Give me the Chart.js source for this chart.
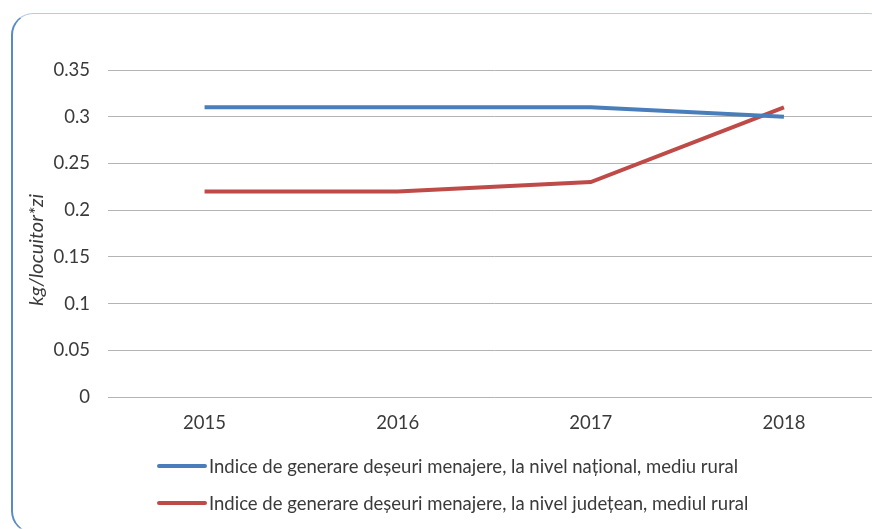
<!DOCTYPE html>
<html>
<head>
<meta charset="utf-8">
<script src="https://cdn.jsdelivr.net/npm/chart.js@4"></script>
<style>
  html, body { margin: 0; padding: 0; background: #fff; }
  #wrap { position: relative; width: 872px; height: 529px; overflow: hidden; }
  #frame {
    position: absolute; left: 11px; top: 13px; width: 880px; height: 520px;
    border: 1px solid #b3cbe8; border-left: 2px solid #5a8ac6;
    border-radius: 22px; box-sizing: border-box;
  }
  #box { position: absolute; left: 0; top: 0; width: 890px; height: 529px; }
  #legend {
    position: absolute; left: 157px; top: 454px;
    font-family: Lato, "Open Sans", sans-serif; font-size: 18.5px; color: #3a3a3a;
  }
  #legend .item { display: flex; align-items: center; height: 24px; margin-bottom: 13px; white-space: nowrap; }
  #legend .swatch { width: 50px; height: 4px; border-radius: 2px; margin-right: 2px; }
</style>
</head>
<body>
<div id="wrap">
  <div id="frame"></div>
  <div id="box"><canvas id="chart" width="890" height="529"></canvas></div>
  <div id="legend"></div>
</div>
<script>
// ani
const years = ["2015", "2016", "2017", "2018"];
const nationalRural = [0.31, 0.31, 0.31, 0.30];
const countyRural = [0.22, 0.22, 0.23, 0.31];
const yTicks = [0, 0.05, 0.1, 0.15, 0.2, 0.25, 0.3, 0.35];

const labelNational = "Indice de generare deșeuri menajere, la nivel național, mediu rural";
const labelCounty = "Indice de generare deșeuri menajere, la nivel județean, mediul rural";

const textColor = "#3a3a3a";
const fontFamily = "Lato, 'Open Sans', sans-serif";
const fontSize = 18.5;

const chart = new Chart(document.getElementById("chart"), {
  type: "line",
  data: {
    labels: years,
    datasets: [
      {
        label: labelNational,
        data: nationalRural,
        borderColor: "#4a7ebb",
        backgroundColor: "#4a7ebb",
        borderWidth: 4,
        pointRadius: 0,
        tension: 0
      },
      {
        label: labelCounty,
        data: countyRural,
        borderColor: "#be4b48",
        backgroundColor: "#be4b48",
        borderWidth: 4,
        pointRadius: 0,
        tension: 0
      }
    ]
  },
  options: {
    responsive: false,
    animation: false,
    layout: { padding: { top: 70, right: 9.5, bottom: 92, left: 0 } },
    plugins: {
      tooltip: { enabled: false },
      legend: { display: false }
    },
    scales: {
      x: {
        offset: true,
        grid: { display: false },
        border: { display: false },
        ticks: { color: textColor, font: { size: fontSize, family: fontFamily }, padding: 7 },
        afterFit: s => { s.height = 40; }
      },
      y: {
        min: 0,
        max: 0.35,
        afterBuildTicks: s => { s.ticks = yTicks.map(v => ({ value: v })); },
        grid: { color: "#b4b4b4", drawTicks: false },
        border: { display: false },
        ticks: {
          color: textColor,
          font: { size: fontSize, family: fontFamily },
          padding: 18,
          callback: v => String(+v.toFixed(2))
        },
        title: {
          display: true,
          // spatiile de la final coboara eticheta putin sub mijlocul axei
          text: "kg/locuitor*zi" + "\u00a0".repeat(7),
          color: textColor,
          font: { size: 20, family: fontFamily, style: "italic" },
          padding: { top: 25, bottom: 0 }
        },
        afterFit: s => { s.width = 108; }
      }
    }
  }
});

// legenda sub grafic, cate un rand pe serie
const legend = document.getElementById("legend");
chart.data.datasets.forEach(ds => {
  const item = document.createElement("div");
  item.className = "item";
  const sw = document.createElement("span");
  sw.className = "swatch";
  sw.style.background = ds.borderColor;
  const txt = document.createElement("span");
  txt.textContent = ds.label;
  item.append(sw, txt);
  legend.appendChild(item);
});
</script>
</body>
</html>
